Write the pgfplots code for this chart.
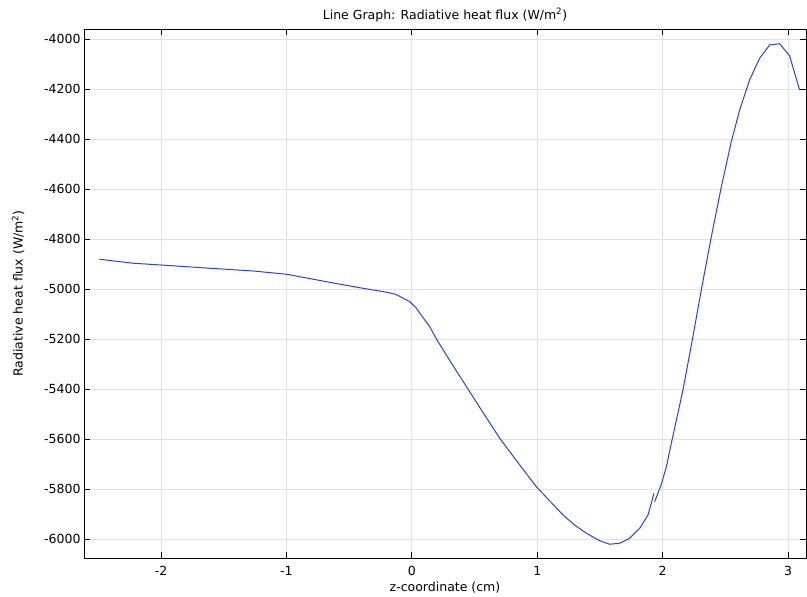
\documentclass[border=0pt]{standalone}
\usepackage{pgfplots}
\pgfplotsset{compat=1.18}
\usepackage{fontspec}
\setmainfont{DejaVu Sans}
\definecolor{lineblue}{RGB}{32,64,255}
\definecolor{gridgray}{RGB}{225,225,225}
\begin{document}
\begin{tikzpicture}
\begin{axis}[
  scale only axis, width=722pt, height=529pt,
  xmin=-2.614, xmax=3.143, ymin=-6076, ymax=-3960,
  xtick={-2,-1,0,1,2,3}, xticklabels={-2,-1,0,1,2,3},
  ytick={-6000,-5800,-5600,-5400,-5200,-5000,-4800,-4600,-4400,-4200,-4000},
  yticklabels={-6000,-5800,-5600,-5400,-5200,-5000,-4800,-4600,-4400,-4200,-4000},
  tick align=inside, tick pos=both, major tick length=6pt,
  grid=major, major grid style={gridgray, line width=0.9pt},
  axis line style={black, line width=0.9pt},
  tick style={black, line width=0.9pt},
  tick label style={font=\fontsize{12.5}{14}\selectfont},
  xticklabel style={yshift=-5pt},
  label style={font=\fontsize{12.5}{14}\selectfont},
  title style={font=\fontsize{12.5}{14}\selectfont, at={(axis description cs:0.5,1.0075)}, anchor=base},
  title={Line Graph: Radiative heat flux (W/m\textsuperscript{2})},
  xlabel={z-coordinate (cm)},
  ylabel={Radiative heat flux (W/m\textsuperscript{2})},
  xlabel style={at={(axis description cs:0.5,-0.0624)}, anchor=base},
  ylabel style={at={(axis description cs:-0.0914,0.5)}, anchor=center, rotate=0},
]
\coordinate (sw) at (rel axis cs:0,0);
\coordinate (ne) at (rel axis cs:1,1);
\addplot[lineblue, line width=1pt] coordinates {
(-2.492,-4881) (-2.22,-4897) (-2.0,-4904) (-1.61,-4917) (-1.264,-4928) (-0.998,-4941)
(-0.68,-4971) (-0.414,-4995) (-0.2,-5013) (-0.13,-5021) (-0.08,-5034) (-0.042,-5044) (-0.016,-5051)
(0.037,-5077) (0.064,-5097) (0.143,-5151) (0.197,-5201) (0.32,-5300) (0.449,-5401)
(0.575,-5500) (0.701,-5597) (0.85,-5697) (0.993,-5791) (1.1,-5848) (1.206,-5904)
(1.3,-5945) (1.392,-5977) (1.498,-6007) (1.578,-6021) (1.657,-6017) (1.737,-5997)
(1.817,-5957) (1.883,-5904) (1.931,-5817)
};
\addplot[lineblue, line width=1pt] coordinates {
(1.936,-5851) (1.99,-5780) (2.03,-5710) (2.069,-5617) (2.162,-5404) (2.241,-5191)
(2.308,-5004) (2.388,-4791) (2.468,-4591) (2.547,-4411) (2.614,-4284) (2.693,-4164)
(2.773,-4077) (2.853,-4024) (2.932,-4019) (3.012,-4067) (3.092,-4204)
};
\end{axis}
\pgfresetboundingbox
\useasboundingbox ([xshift=-84pt,yshift=-38pt]sw) rectangle ([xshift=1pt,yshift=29pt]ne);
\end{tikzpicture}
\end{document}
